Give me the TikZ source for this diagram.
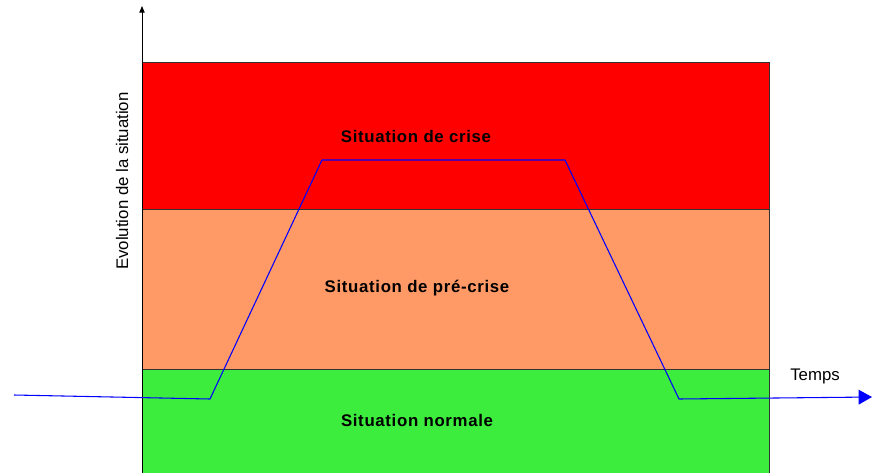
\documentclass[tikz,border=0pt]{standalone}
\usepackage{fontspec}
\setmainfont{Liberation Sans}
\usetikzlibrary{arrows.meta}

\definecolor{crise}{RGB}{255,0,0}
\definecolor{precrise}{RGB}{255,153,102}
\definecolor{normale}{RGB}{61,237,61}

\begin{document}
\begin{tikzpicture}[x=0.75pt,y=-0.75pt,
  band/.style={draw=black!80,line width=0.6pt},
  zone label/.style={font=\fontsize{12.6}{15}\selectfont\bfseries\addfontfeature{LetterSpace=4}},
  axis label/.style={font=\fontsize{12.6}{15}\selectfont},
  courbe/.style={draw=blue,line width=0.8pt}]

  \useasboundingbox (0,0) rectangle (872,472);

  % zones
  \filldraw[band,fill=normale] (142,369) rectangle (769,480);
  \filldraw[band,fill=precrise] (142,209) rectangle (769,369);
  \filldraw[band,fill=crise] (142,62) rectangle (769,209);

  \node[zone label] (crise) at (416,136) {Situation de crise};
  \node[zone label] (precrise) at (417,288) {Situation de pré-crise};
  \node[zone label] (normale) at (417,420) {Situation normale};

  % axe
  \coordinate (o) at (142,480);
  \coordinate (haut) at (142,6);
  \draw[line width=0.7pt,-{Triangle[length=5pt,width=4pt]}] (o) -- (haut);
  \node[axis label,rotate=90] (evol) at (122,181) {Evolution de la situation};
  \node[axis label] (temps) at (815,376) {Temps};

  % evolution
  \coordinate (a) at (14,395);
  \coordinate (b) at (210,399);
  \coordinate (c) at (322,160);
  \coordinate (d) at (565,160);
  \coordinate (e) at (679,399);
  \coordinate (f) at (872,397);
  \draw[courbe,-{Triangle[length=10pt,width=11pt]}] (a) -- (b) -- (c) -- (d) -- (e) -- (f);
\end{tikzpicture}
\end{document}
